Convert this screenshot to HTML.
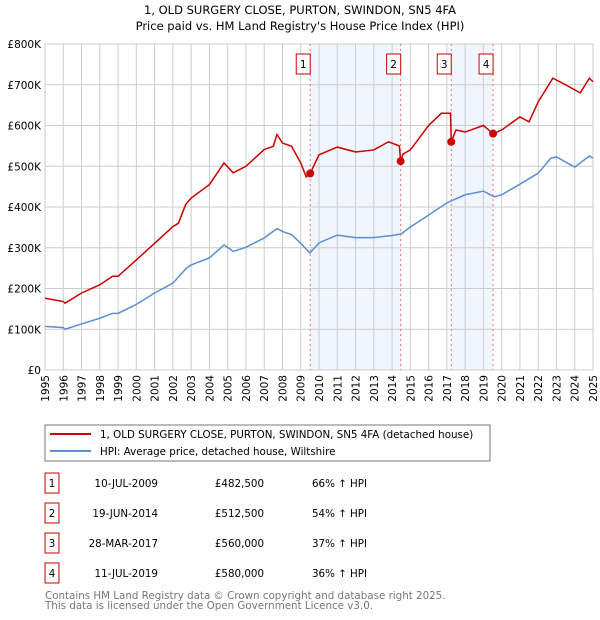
<!DOCTYPE html>
<html><head><meta charset="utf-8"><style>
body{margin:0;background:#fff}
svg{display:block;font-family:"DejaVu Sans","Liberation Sans",sans-serif}
</style></head><body>
<svg id="c" width="600" height="620" viewBox="0 0 600 620">
<text x="300" y="14" text-anchor="middle" font-size="11.5">1, OLD SURGERY CLOSE, PURTON, SWINDON, SN5 4FA</text>
<text x="300" y="30" text-anchor="middle" font-size="11.5">Price paid vs. HM Land Registry's House Price Index (HPI)</text>
<g id="plot"></g>
<rect x="45" y="425" width="445" height="36" fill="#fff" stroke="#777"/>
<line x1="50" y1="434" x2="91" y2="434" stroke="#cc0000" stroke-width="2"/>
<text x="100" y="438" font-size="10.3">1, OLD SURGERY CLOSE, PURTON, SWINDON, SN5 4FA (detached house)</text>
<line x1="50" y1="451" x2="91" y2="451" stroke="#5b8ed6" stroke-width="2"/>
<text x="100" y="455" font-size="10.3">HPI: Average price, detached house, Wiltshire</text>
<g id="table" font-size="10.3"></g>
<text x="45" y="599" font-size="10.3" fill="#777">Contains HM Land Registry data © Crown copyright and database right 2025.</text>
<text x="45" y="609" font-size="10.3" fill="#777">This data is licensed under the Open Government Licence v3.0.</text>
</svg>
<script>
const hpiYears=[1995,1996,1996.1,1997,1998,1998.7,1999,2000,2001,2002,2002.7,2003,2004,2004.8,2005.3,2006,2007,2007.7,2008,2008.5,2009,2009.5,2010,2011,2012,2013,2014,2014.5,2015,2016,2017,2018,2019,2019.6,2020,2021,2022,2022.7,2023,2024,2024.8,2025];
const hpiValues=[107,104,100,113,127,139,139,161,189,213,248,258,275,307,291,301,324,347,340,332,311,287,312,331,325,325,330,334,351,380,410,430,439,425,430,456,483,520,523,498,525,520];
const priceYears=[1995,1996,1996.1,1997,1998,1998.7,1999,2000,2001,2002,2002.3,2002.7,2003,2004,2004.8,2005.3,2006,2007,2007.5,2007.7,2008,2008.5,2009,2009.3,2009.52,2010,2011,2012,2013,2013.8,2014.4,2014.47,2014.6,2015,2016,2016.7,2017.2,2017.24,2017.5,2018,2019,2019.53,2020,2021,2021.5,2022,2022.8,2023.5,2024.3,2024.8,2025];
const priceValues=[176,168,164,189,209,230,230,270,311,352,360,406,422,455,508,484,500,541,549,578,557,549,508,474,482.5,528,547,535,540,560,550,512.5,530,540,600,630,630,560,589,584,600,580,589,621,609,658,716,700,680,716,707];
const saleDates=[2009.52,2014.47,2017.24,2019.53];
const salePrices=[482.5,512.5,560,580];
const saleLabels=["1","2","3","4"];
const saleDateText=["10-JUL-2009","19-JUN-2014","28-MAR-2017","11-JUL-2019"];
const salePriceText=["£482,500","£512,500","£560,000","£580,000"];
const saleHpiText=["66% ↑ HPI","54% ↑ HPI","37% ↑ HPI","36% ↑ HPI"];
const yTicks=[0,100,200,300,400,500,600,700,800];
const yTickLabels=["£0","£100K","£200K","£300K","£400K","£500K","£600K","£700K","£800K"];
const xTicks=[1995,1996,1997,1998,1999,2000,2001,2002,2003,2004,2005,2006,2007,2008,2009,2010,2011,2012,2013,2014,2015,2016,2017,2018,2019,2020,2021,2022,2023,2024,2025];

const X0=45,X1=593,Y0=370,Y1=44;
const xs=v=>X0+(v-1995)/30*(X1-X0);
const ys=v=>Y0-v/800*(Y0-Y1);
const NS="http://www.w3.org/2000/svg";
const plot=document.getElementById('plot');
function mk(tag,attrs,parent){const e=document.createElementNS(NS,tag);for(const k in attrs)e.setAttribute(k,attrs[k]);(parent||plot).appendChild(e);return e;}

for(let i=0;i<saleDates.length;i+=2){
  const r=mk('rect',{x:xs(saleDates[i]),y:Y1,width:xs(saleDates[i+1])-xs(saleDates[i]),height:Y0-Y1,fill:'#eef3fd',opacity:0.8});
  
  
}
yTicks.forEach((t,i)=>{
  const l=mk('line',{x1:X0,x2:X1,y1:ys(t),y2:ys(t),stroke:'#ccc'});
  
  
  const tx=mk('text',{x:X0-4,y:ys(t)+4,'text-anchor':'end','font-size':10.5});
  tx.textContent=yTickLabels[i];
  
  
});
xTicks.forEach(t=>{
  const l=mk('line',{x1:xs(t),x2:xs(t),y1:Y1,y2:Y0,stroke:'#ccc'});
  
  
  const tx=mk('text',{x:0,y:0,'text-anchor':'end','font-size':10.5,transform:`translate(${xs(t)+4},${Y0+5}) rotate(-90)`});
  tx.textContent=t;
  
  
});
const fr=mk('rect',{x:X0,y:Y1,width:X1-X0,height:Y0-Y1,fill:'none',stroke:'#ccc'});


saleDates.forEach((d,i)=>{
  const l=mk('line',{x1:xs(d),x2:xs(d),y1:Y1,y2:Y0,stroke:'#f07070','stroke-dasharray':'2,3'});
  
  
  const b=mk('rect',{x:xs(d)-14,y:54,width:14,height:20,fill:'#fff',stroke:'#cc0000'});
  
  
  const t=mk('text',{x:xs(d)-7,y:68,'text-anchor':'middle','font-size':10.5});
  t.textContent=saleLabels[i];
  
  
});
const hp=mk('polyline',{points:hpiYears.map((y,i)=>xs(y)+','+ys(hpiValues[i])).join(' '),fill:'none',stroke:'#5b8ed6','stroke-width':1.5});


const pp=mk('polyline',{points:priceYears.map((y,i)=>xs(y)+','+ys(priceValues[i])).join(' '),fill:'none',stroke:'#cc0000','stroke-width':1.5});


saleDates.forEach((d,i)=>{
  const c=mk('circle',{cx:xs(d),cy:ys(salePrices[i]),r:4,fill:'#cc0000'});
  
  
});
const tb=document.getElementById('table');
saleLabels.forEach((s,i)=>{
  const cy=483+i*30;
  const b=mk('rect',{x:45,y:cy-10,width:14,height:20,fill:'#fff',stroke:'#cc0000'},tb);
  
  
  const cells=[[52,s,'middle'],[158,saleDateText[i],'end'],[264,salePriceText[i],'end'],[312,saleHpiText[i],'start']];
  cells.forEach(([x,txt,a],j)=>{
    const t=mk('text',{x:x,y:cy+4,'text-anchor':a},tb);
    t.textContent=txt;
    
    
  });
});
</script>
</body></html>
